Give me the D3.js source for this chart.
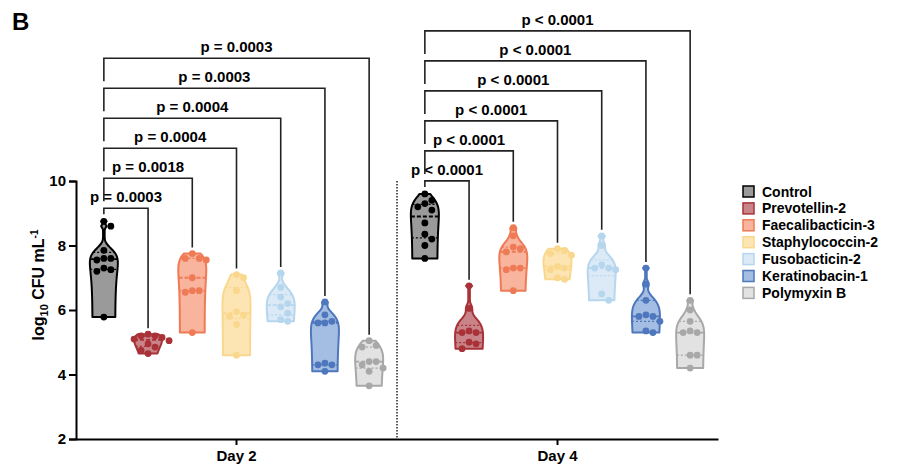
<!DOCTYPE html>
<html lang="en">
<head>
<meta charset="UTF-8">
<title>Violin CFU</title>
<script src="https://cdn.jsdelivr.net/npm/d3@7"></script>
<style>
  body { margin: 0; background: #fff; }
  text { font-family: "Liberation Sans", Arial, sans-serif; font-weight: bold; fill: #000; }
  .axis path, .axis line { stroke: #000; stroke-width: 2px; }
  .axis text { font-size: 15px; font-weight: bold; }
</style>
</head>
<body>
<script>
// groups, days and values (log10 CFU/mL)
var groups = ["Control", "Prevotellin-2", "Faecalibacticin-3", "Staphylococcin-2", "Fusobacticin-2", "Keratinobacin-1", "Polymyxin B"];
var days = ["Day 2", "Day 4"];

var day2 = [
  [8.75, 8.6, 7.85, 7.6, 7.6, 7.55, 7.3, 7.25, 7.2, 5.78],
  [5.25, 5.2, 5.2, 5.15, 5.1, 5.05, 4.95, 4.85, 4.75, 4.65],
  [7.75, 7.6, 7.6, 7.55, 7.0, 6.6, 6.6, 6.55, 5.3],
  [7.1, 7.0, 6.6, 5.95, 5.85, 5.8, 5.55, 4.6],
  [7.15, 6.7, 6.4, 6.2, 6.1, 5.9, 5.7, 5.65],
  [6.25, 5.85, 5.65, 5.6, 5.6, 4.35, 4.3, 4.3, 4.1],
  [5.05, 4.9, 4.85, 4.4, 4.4, 4.3, 4.2, 4.1, 3.65]
];
var day4 = [
  [9.6, 9.4, 9.3, 9.2, 9.1, 8.7, 8.35, 8.2, 8.0, 7.6],
  [6.75, 6.05, 5.35, 5.3, 5.3, 5.0, 4.95, 4.8],
  [8.55, 8.3, 7.95, 7.9, 7.8, 7.3, 7.3, 7.25, 6.6],
  [7.9, 7.85, 7.75, 7.7, 7.35, 7.3, 7.25, 7.0, 6.95],
  [8.3, 8.0, 7.4, 7.3, 7.3, 7.25, 6.5, 6.3],
  [7.3, 6.8, 6.3, 5.85, 5.8, 5.8, 5.65, 5.35, 5.3],
  [6.3, 6.0, 5.65, 5.35, 5.3, 5.3, 4.6, 4.6, 4.2]
];
var pDay2 = ["p = 0.0003", "p = 0.0018", "p = 0.0004", "p = 0.0004", "p = 0.0003", "p = 0.0003"];
var pDay4 = ["p < 0.0001", "p < 0.0001", "p < 0.0001", "p < 0.0001", "p < 0.0001", "p < 0.0001"];
var yTicks = [2, 4, 6, 8, 10];

var fills = ["#9a9a9a", "#c9848a", "#f8b49c", "#fde5b3", "#dbeaf6", "#a4bde2", "#e2e2e2"];
var strokes = ["#000000", "#a83238", "#ef7a56", "#f9d88e", "#b6d6ee", "#4e77bd", "#a8a8a8"];

var width = 900, height = 474;
var svg = d3.select("body").append("svg")
  .attr("width", width)
  .attr("height", height);

var y = d3.scaleLinear().domain([2, 10]).range([439, 181]);
var xDay = d3.scaleBand().domain(days).range([76, 718]);
var xGroup = d3.scalePoint().domain(groups).range([0, xDay.bandwidth()]).padding(0.63);

// panel letter
svg.append("text").attr("x", 12).attr("y", 30).style("font-size", "24px").text("B");

// separator between days
svg.append("line")
  .attr("x1", xDay("Day 4")).attr("x2", xDay("Day 4"))
  .attr("y1", y(10)).attr("y2", y(2))
  .attr("stroke", "#000").attr("stroke-width", 1.3)
  .attr("stroke-dasharray", "1.5,1.5");

// axes
svg.append("g").attr("class", "axis")
  .attr("transform", "translate(76,0)")
  .call(d3.axisLeft(y).tickValues(yTicks).tickSize(7).tickPadding(3));

var xAxis = svg.append("g").attr("class", "axis")
  .attr("transform", "translate(0," + y(2) + ")")
  .call(d3.axisBottom(xDay).tickSize(6).tickSizeOuter(0).tickPadding(5));
xAxis.selectAll("text").style("font-size", "15px");

// y label
var ylab = svg.append("text")
  .attr("transform", "translate(44,285) rotate(-90)")
  .attr("text-anchor", "middle")
  .style("font-size", "16px");
ylab.append("tspan").text("log");
ylab.append("tspan").attr("dy", 4).style("font-size", "11px").text("10");
ylab.append("tspan").attr("dy", -4).text(" CFU mL");
ylab.append("tspan").attr("dy", -6).style("font-size", "10px").text("-1");

function gauss(u) { return Math.exp(-0.5 * u * u); }

// density is estimated on CFU (linear) and shown on the log axis, truncated at min/max
function violin(values) {
  var sorted = values.slice().sort(d3.ascending);
  var lin = sorted.map(function(v) { return Math.pow(10, v); });
  var n = lin.length;
  var sd = d3.deviation(lin);
  var iqr = d3.quantile(lin, 0.75) - d3.quantile(lin, 0.25);
  var bw = 2 * 0.9 * Math.min(sd, iqr / 1.34 || sd) * Math.pow(n, -0.2);
  function dens(v) {
    var c = Math.pow(10, v);
    return d3.sum(lin, function(s) { return gauss((c - s) / bw); });
  }
  var lo = sorted[0], hi = sorted[n - 1];
  var steps = 120;
  var pts = d3.range(steps + 1).map(function(i) {
    var v = lo + (hi - lo) * i / steps;
    return [v, dens(v)];
  });
  var maxD = d3.max(pts, function(p) { return p[1]; });
  var w = d3.scaleLinear().domain([0, maxD]).range([0.8, 14]);
  return { pts: pts, w: w, halfAt: function(v) { return w(dens(v)); }, sorted: sorted };
}

function drawDay(day, data, pLabels) {
  var g = svg.append("g").attr("transform", "translate(" + xDay(day) + ",0)");

  data.forEach(function(values, gi) {
    var cx = xGroup(groups[gi]);
    var v = violin(values);
    var area = d3.area()
      .x0(function(d) { return cx - v.w(d[1]); })
      .x1(function(d) { return cx + v.w(d[1]); })
      .y(function(d) { return y(d[0]); })
      .curve(d3.curveMonotoneY);
    g.append("path")
      .datum(v.pts)
      .attr("d", function(d) { return area(d) + "Z"; })
      .attr("fill", fills[gi])
      .attr("stroke", strokes[gi])
      .attr("stroke-width", 2)
      .attr("stroke-linejoin", "round");

    // median and quartiles
    [[0.5, "4,2", 1.8], [0.25, "2,2", 1.2], [0.75, "2,2", 1.2]].forEach(function(q) {
      var qv = d3.quantile(v.sorted, q[0]);
      var hw = v.halfAt(qv);
      g.append("line")
        .attr("x1", cx - hw).attr("x2", cx + hw)
        .attr("y1", y(qv)).attr("y2", y(qv))
        .attr("stroke", strokes[gi])
        .attr("stroke-width", q[2])
        .attr("stroke-dasharray", q[1]);
    });

    // points, pushed sideways where they would overlap
    var placed = [];
    v.sorted.slice().reverse().forEach(function(s) {
      var cy = y(s), dx = 0;
      for (var k = 0; k < 12; k++) {
        dx = (k % 2 ? 1 : -1) * Math.ceil(k / 2) * 7;
        var clash = placed.some(function(p) {
          return Math.hypot(p[0] - dx, p[1] - cy) < 6.5;
        });
        if (!clash) break;
      }
      placed.push([dx, cy]);
      g.append("circle")
        .attr("cx", cx + dx)
        .attr("cy", cy)
        .attr("r", 3.4)
        .attr("fill", strokes[gi]);
    });
  });

  // significance brackets
  var cx0 = xGroup(groups[0]);
  var topCtrl = y(d3.max(data[0]));
  pLabels.forEach(function(lab, i) {
    var h = topCtrl - 13 - 30 * i;
    var cx1 = xGroup(groups[i + 1]);
    var leftEnd = i === 0 ? topCtrl - 7 : h + 23;
    var rightEnd = y(d3.max(data[i + 1])) - 6;
    g.append("path")
      .attr("d", "M" + cx0 + "," + leftEnd + "V" + h + "H" + cx1 + "V" + rightEnd)
      .attr("fill", "none")
      .attr("stroke", "#222")
      .attr("stroke-width", 1.6);
    g.append("text")
      .attr("x", (cx0 + cx1) / 2)
      .attr("y", h - 6)
      .attr("text-anchor", "middle")
      .style("font-size", "15px")
      .text(lab);
  });
}

drawDay("Day 2", day2, pDay2);
drawDay("Day 4", day4, pDay4);

// legend
var legend = svg.append("g").attr("transform", "translate(743,186)");
groups.forEach(function(name, i) {
  var row = legend.append("g").attr("transform", "translate(0," + (i * 16.9) + ")");
  row.append("rect")
    .attr("width", 11).attr("height", 11)
    .attr("fill", fills[i])
    .attr("stroke", strokes[i])
    .attr("stroke-width", 1.5);
  row.append("text")
    .attr("x", 19).attr("y", 10.5)
    .style("font-size", "14px")
    .text(name);
});
</script>
</body>
</html>
